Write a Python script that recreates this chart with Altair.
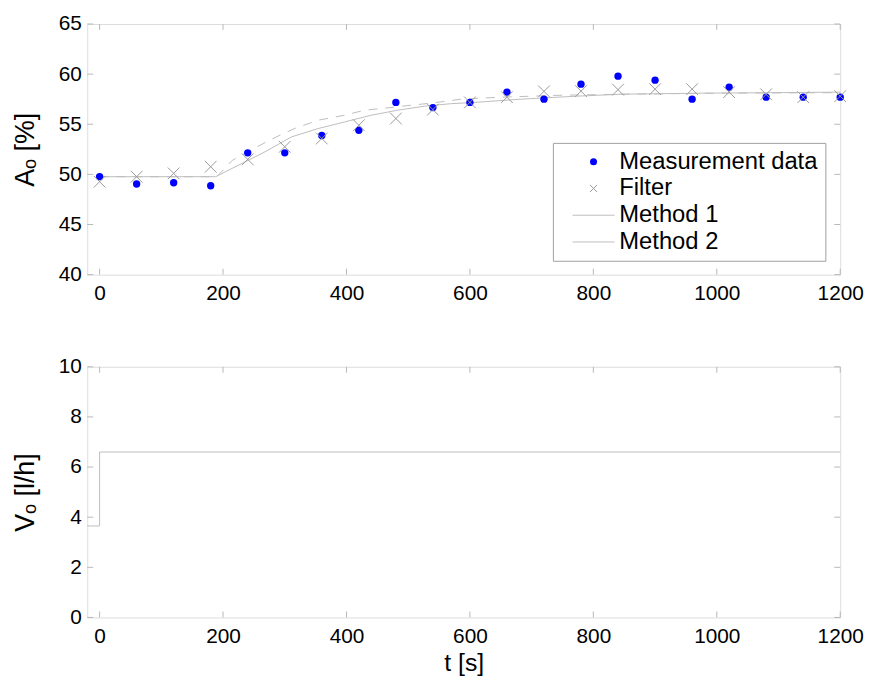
import altair as alt
import pandas as pd

# ---------------- data ----------------
t_meas = [0, 60, 120, 180, 240, 300, 360, 420, 480, 540, 600,
          660, 720, 780, 840, 900, 960, 1020, 1080, 1140, 1200]
measurement = [49.77, 49.04, 49.17, 48.87, 52.15, 52.15, 53.88, 54.4, 57.18, 56.66, 57.18,
               58.2, 57.5, 59.0, 59.8, 59.4, 57.5, 58.7, 57.7, 57.7, 57.7]
filt = [49.27, 49.77, 50.1, 50.76, 51.5, 52.75, 53.58, 54.9, 55.57, 56.46, 57.18,
        57.7, 58.28, 58.3, 58.45, 58.5, 58.5, 58.2, 57.98, 57.7, 57.8]

t_m1 = [0, 188, 236, 268, 311, 354, 397, 440, 483, 526, 569, 601, 682, 773, 848, 977, 1200]
method1 = [49.77, 49.77, 51.26, 52.25, 53.74, 54.57, 55.23, 55.9, 56.4, 56.8, 57.05, 57.15,
           57.5, 57.8, 58.0, 58.1, 58.2]

t_m2 = [0, 190, 215, 247, 285, 317, 354, 397, 429, 477, 504, 537, 585, 650, 750, 850, 1000, 1200]
method2 = [49.77, 49.77, 51.4, 52.5, 53.7, 54.6, 55.4, 55.9, 56.4, 56.7, 56.9, 57.1, 57.5,
           57.7, 57.9, 58.0, 58.1, 58.15]

t_flow = [-20, 0, 1200]
flow = [3.65, 6.6, 6.6]

series_names = ["Measurement data", "Filter", "Method 1", "Method 2"]
x_ticks = [0, 200, 400, 600, 800, 1000, 1200]
y_ticks_top = [40, 45, 50, 55, 60, 65]
y_ticks_bot = [0, 2, 4, 6, 8, 10]

# ---------------- layout ----------------
W, H = 760, 253
FRAME = "#b8b8b8"
LINE = "#bdbdbd"
XMARK = "#9a9a9a"
FONT = "Liberation Sans"
TL = 6  # inward tick length

x_scale = alt.Scale(domain=[-20, 1200], nice=False, zero=False)
ys_top = alt.Scale(domain=[40, 65], nice=False, zero=False)
ys_bot = alt.Scale(domain=[0, 10], nice=False, zero=False)

pts = pd.DataFrame({
    "t": t_meas + t_meas,
    "v": measurement + filt,
    "series": ["Measurement data"] * len(t_meas) + ["Filter"] * len(t_meas),
})
m1 = pd.DataFrame({"t": t_m1, "v": method1})
m2 = pd.DataFrame({"t": t_m2, "v": method2})
fl = pd.DataFrame({"t": t_flow, "v": flow})
xt = pd.DataFrame({"t": x_ticks})

XPATH = "M-1,-1L1,1M-1,1L1,-1"
LPATH = "M-6,0L6,0"

legend = alt.Legend(
    title=None, orient="none", legendX=470, legendY=120,
    strokeColor="#a0a0a0", fillColor="white", padding=7,
    labelFont=FONT, labelFontSize=24, labelColor="black", labelLimit=0,
    symbolSize=50, symbolStrokeWidth=1, symbolOffset=22, labelOffset=14, rowPadding=3,
)


def x_axis(title):
    return alt.Axis(title=title, values=x_ticks, format="d", labelPadding=8, grid=False,
                    ticks=False, domain=False, labelFont=FONT, labelFontSize=21,
                    labelColor="black", labelFlush=False, titleFont=FONT, titleFontSize=25,
                    titleFontWeight="normal", titleColor="black", titlePadding=5)


def y_axis(title, vals):
    return alt.Axis(title=title, values=vals, format="d", labelPadding=6, grid=False,
                    ticks=False, domain=False, labelFont=FONT, labelFontSize=21,
                    labelColor="black", titleFont=FONT, titleFontSize=27,
                    titleFontWeight="normal", titleColor="black", titlePadding=19)


def make_panel(marks_fn, yscale, yvals, xtitle, ytitle):
    xa = x_axis(xtitle)
    ya = y_axis(ytitle, yvals)
    X = alt.X("t:Q", scale=x_scale, axis=xa)
    Y = alt.Y("v:Q", scale=yscale, axis=ya)
    yt = pd.DataFrame({"v": yvals})
    layers = marks_fn(X, Y)
    layers += [
        alt.Chart(xt).mark_rule(color=FRAME).encode(x=X, y=alt.value(0), y2=alt.value(TL)),
        alt.Chart(xt).mark_rule(color=FRAME).encode(x=X, y=alt.value(H), y2=alt.value(H - TL)),
        alt.Chart(yt).mark_rule(color=FRAME).encode(y=Y, x=alt.value(0), x2=alt.value(TL)),
        alt.Chart(yt).mark_rule(color=FRAME).encode(y=Y, x=alt.value(W), x2=alt.value(W - TL)),
    ]
    return alt.layer(*layers).properties(width=W, height=H)


def top_marks(X, Y):
    line1 = alt.Chart(m1).mark_line(color=LINE, strokeWidth=1).encode(x=X, y=Y)
    line2 = alt.Chart(m2).mark_line(color=LINE, strokeWidth=1, strokeDash=[9, 8]).encode(x=X, y=Y)
    points = alt.Chart(pts).mark_point(strokeWidth=1, opacity=1).encode(
        x=X, y=Y,
        shape=alt.Shape("series:N", scale=alt.Scale(domain=series_names,
                        range=["circle", XPATH, LPATH, LPATH]), legend=legend),
        fill=alt.Fill("series:N", scale=alt.Scale(domain=series_names,
                      range=["#0000ff", "transparent", "transparent", "transparent"]), legend=legend),
        stroke=alt.Stroke("series:N", scale=alt.Scale(domain=series_names,
                          range=["transparent", XMARK, LINE, LINE]), legend=legend),
        size=alt.condition(alt.datum.series == "Filter", alt.value(140), alt.value(55)),
    )
    return [line1, line2, points]


def bottom_marks(X, Y):
    return [alt.Chart(fl).mark_line(color=LINE, strokeWidth=1, interpolate="step-after").encode(x=X, y=Y)]


top = make_panel(top_marks, ys_top, y_ticks_top, None, "Aₒ [%]")
bottom = make_panel(bottom_marks, ys_bot, y_ticks_bot, "t [s]", "Vₒ [l/h]")

chart = alt.vconcat(top, bottom, spacing=51).resolve_legend(
    shape="independent", fill="independent", stroke="independent"
).properties(
    padding={"left": 3, "top": 1, "right": 0, "bottom": 0}
).configure_view(stroke=FRAME, strokeWidth=1).configure(background="white")

chart.save("out.html", embed_options={"renderer": "svg", "actions": False})
